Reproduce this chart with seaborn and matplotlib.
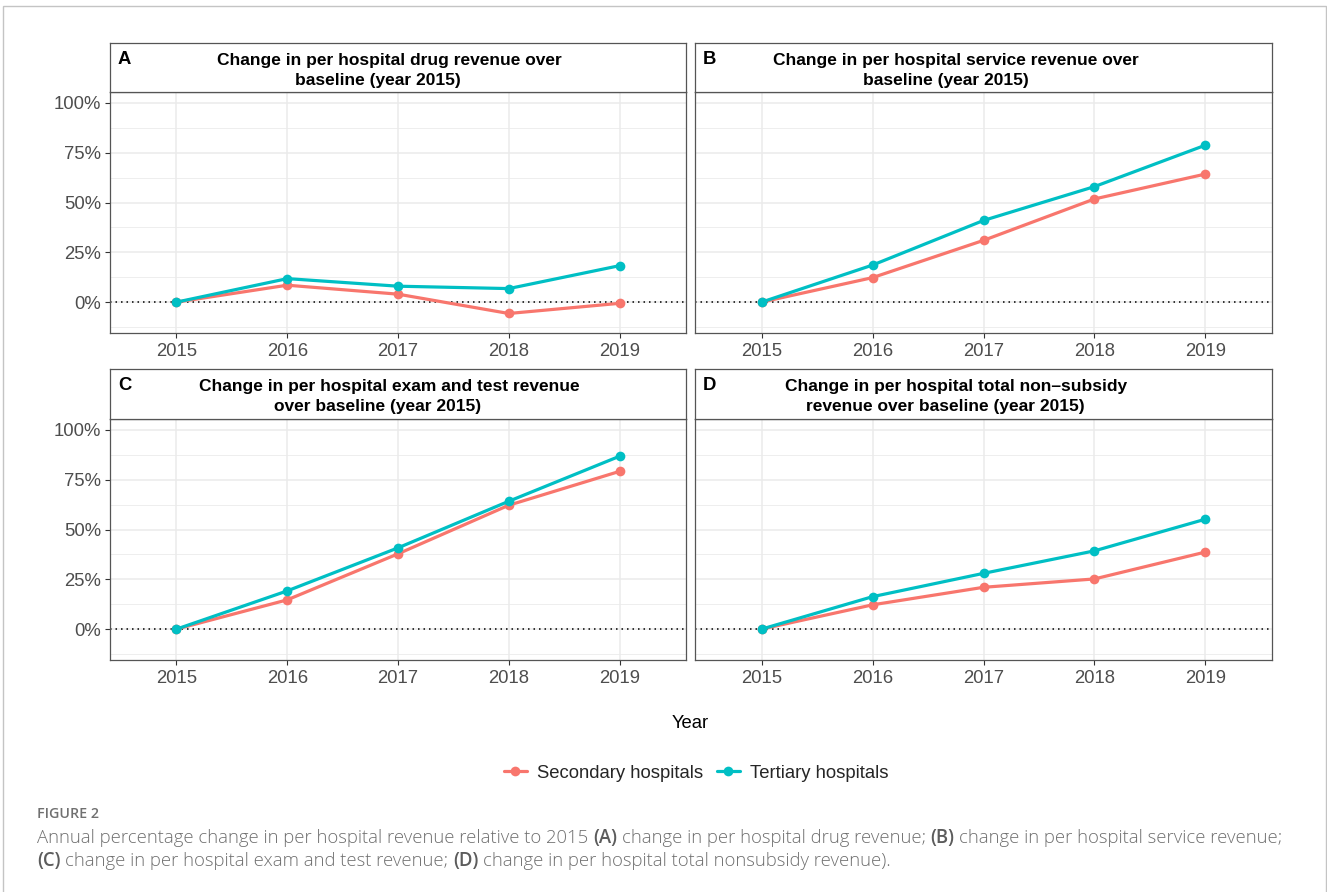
import matplotlib
matplotlib.use("Agg")
import matplotlib.pyplot as plt
import matplotlib.patches as mpatches
from matplotlib.ticker import FixedLocator
import numpy as np
import pandas as pd
import seaborn as sns

# ---- data (percent change relative to 2015) ----
years = [2015, 2016, 2017, 2018, 2019]
groups = ["Secondary hospitals", "Tertiary hospitals"]

drug_secondary = [0.0, 8.5, 4.0, -5.7, -0.6]
drug_tertiary = [0.0, 11.8, 8.0, 6.8, 18.3]
service_secondary = [0.0, 12.3, 31.0, 51.8, 64.3]
service_tertiary = [0.0, 18.6, 41.0, 58.0, 78.8]
exam_secondary = [0.0, 14.7, 37.8, 62.2, 79.2]
exam_tertiary = [0.0, 19.2, 40.8, 64.2, 86.8]
total_secondary = [0.0, 12.2, 21.0, 25.2, 38.7]
total_tertiary = [0.0, 16.3, 28.0, 39.3, 55.2]

panel_tags = ["A", "B", "C", "D"]
panel_titles = [
    ["Change in per hospital drug revenue over", "baseline (year 2015)"],
    ["Change in per hospital service revenue over", "baseline (year 2015)"],
    ["Change in per hospital exam and test revenue", "over baseline (year 2015)"],
    ["Change in per hospital total non\u2013subsidy", "revenue over baseline (year 2015)"],
]
panel_series = [
    (drug_secondary, drug_tertiary),
    (service_secondary, service_tertiary),
    (exam_secondary, exam_tertiary),
    (total_secondary, total_tertiary),
]
y_ticks = [0, 25, 50, 75, 100]
y_tick_labels = ["0%", "25%", "50%", "75%", "100%"]
x_label = "Year"
figure_label = "FIGURE 2"
caption_line1 = [
    ("Annual percentage change in per hospital revenue relative to 2015", False),
    ("(A)", True),
    ("change in per hospital drug revenue;", False),
    ("(B)", True),
    ("change in per hospital service revenue;", False),
]
caption_line2 = [
    ("(C)", True),
    ("change in per hospital exam and test revenue;", False),
    ("(D)", True),
    ("change in per hospital total nonsubsidy revenue).", False),
]

palette = {"Secondary hospitals": "#F8766D", "Tertiary hospitals": "#00BFC4"}

# ---- figure setup ----
W, H = 1327, 892
sns.set_theme(style="white")
plt.rcParams["font.family"] = ["Liberation Sans", "DejaVu Sans"]
fig = plt.figure(figsize=(W / 100, H / 100), dpi=100)
fig.patch.set_facecolor("white")


def box(x0, y0, x1, y1):
    return [x0 / W, 1 - y1 / H, (x1 - x0) / W, (y1 - y0) / H]


def fx(x):
    return x / W


def fy(y):
    return 1 - y / H


# outer frame
fig.patches.append(mpatches.Rectangle((fx(3), fy(900)), fx(1326) - fx(3), fy(6) - fy(900),
                                      transform=fig.transFigure, fill=False,
                                      edgecolor="#c4c4c4", linewidth=1.0))

border_col = "#555555"
grid_col = "#EBEBEB"
tick_col = "#4D4D4D"
FS = 13.3
TITLE_FS = 12.5

# pixel layout for each panel: (left, right) and (strip_top, strip_bottom, panel_bottom)
cols = [(110, 686), (695, 1272)]
rows = [(43, 92, 333), (369, 419, 660)]
# horizontal centres of the two title lines, relative to the panel centre
title_offsets = [(-9, -20), (-27.5, -38)]

legend_handles = None
for i in range(4):
    r, c = divmod(i, 2)
    x0, x1 = cols[c]
    s_top, s_bot, p_bot = rows[r]

    # panel
    ax = fig.add_axes(box(x0, s_bot, x1, p_bot))
    sec, ter = panel_series[i]
    df = pd.DataFrame({
        "Year": years * 2,
        "value": list(sec) + list(ter),
        "group": [groups[0]] * len(years) + [groups[1]] * len(years),
    })
    ax.axhline(0, color="black", linestyle=(0, (1, 2.6)), linewidth=1.1, zorder=1.5)
    sns.lineplot(data=df, x="Year", y="value", hue="group", hue_order=groups,
                 palette=palette, marker="o", markersize=7, markeredgewidth=0,
                 linewidth=2.3, ax=ax, legend=(i == 0), zorder=3)
    if i == 0:
        legend_handles = ax.get_legend_handles_labels()
        ax.get_legend().remove()

    ax.set_xlim(2014.4, 2019.6)
    ax.set_ylim(-15.5, 105.5)
    ax.set_xticks(years)
    ax.set_xticklabels([str(y) for y in years])
    ax.set_yticks(y_ticks)
    ax.yaxis.set_minor_locator(FixedLocator([-12.5, 12.5, 37.5, 62.5, 87.5]))
    if c == 0:
        ax.set_yticklabels(y_tick_labels)
        ax.tick_params(axis="y", which="major", left=True, length=3.5, width=0.8,
                       color="#333333", pad=3, labelsize=FS, labelcolor=tick_col)
    else:
        ax.set_yticklabels([])
        ax.tick_params(axis="y", which="major", left=False, length=0)
    ax.tick_params(axis="y", which="minor", left=False, length=0)
    ax.tick_params(axis="x", which="major", bottom=True, length=3.5, width=0.8,
                   color="#333333", pad=4, labelsize=FS, labelcolor=tick_col)
    ax.set_xlabel("")
    ax.set_ylabel("")
    ax.grid(True, which="major", color=grid_col, linewidth=1.1, zorder=0)
    ax.grid(True, which="minor", axis="y", color=grid_col, linewidth=0.6, zorder=0)
    ax.set_axisbelow(True)
    for sp in ax.spines.values():
        sp.set_visible(True)
        sp.set_color(border_col)
        sp.set_linewidth(0.9)
    ax.set_facecolor("white")

    # strip
    sx = fig.add_axes(box(x0, s_top, x1, s_bot))
    sx.set_xticks([])
    sx.set_yticks([])
    sx.set_facecolor("white")
    for sp in sx.spines.values():
        sp.set_visible(True)
        sp.set_color(border_col)
        sp.set_linewidth(0.9)
    centre = (x0 + x1) / 2
    fig.text(fx(x0 + 8), fy(s_top + 16.5), panel_tags[i], fontsize=FS, fontweight="bold",
             ha="left", va="center", color="black")
    for k, line in enumerate(panel_titles[i]):
        fig.text(fx(centre + title_offsets[c][k]), fy(s_top + 17 + 20 * k), line,
                 fontsize=TITLE_FS, fontweight="bold", ha="center", va="center",
                 color="black")

# shared x-axis title
fig.text(fx(690), fy(724), x_label, fontsize=FS, ha="center", va="center", color="black")

# legend
handles, labels = legend_handles
fig.legend(handles, labels, loc="center", bbox_to_anchor=(fx(696), fy(773)), ncol=2,
           frameon=False, fontsize=FS, handlelength=1.25, handletextpad=0.55,
           columnspacing=0.75)

# caption
renderer = fig.canvas.get_renderer()
cap_family = ["Open Sans", "DejaVu Sans"]
normal_col = "#6f6f6f"
bold_col = "#5c5c5c"
cap_left, cap_right = 37, 1283

fig.text(fx(cap_left), fy(818), figure_label, fontsize=10.3, fontweight="semibold",
         color="#707070", family=cap_family, ha="left", va="baseline")


def text_width(s, size, weight):
    t = fig.text(0, 0, s, fontsize=size, family=cap_family, weight=weight)
    w = t.get_window_extent(renderer).width
    t.remove()
    return w


def runs_width(runs, size):
    sp = text_width("x x", size, "light") - text_width("xx", size, "light")
    return sum(text_width(s, size, "semibold" if b else "light") for s, b in runs) \
        + sp * (len(runs) - 1)


# size the caption so its first line spans the text block
base = 10.0
cap_size = base * (cap_right - cap_left) / runs_width(caption_line1, base)
space_w = text_width("x x", cap_size, "light") - text_width("xx", cap_size, "light")


def draw_runs(runs, x, y):
    for txt, bold in runs:
        t = fig.text(fx(x), fy(y), txt, fontsize=cap_size, family=cap_family,
                     weight="semibold" if bold else "light",
                     color=bold_col if bold else normal_col,
                     ha="left", va="baseline")
        x += t.get_window_extent(renderer).width + space_w


draw_runs(caption_line1, cap_left, 843)
draw_runs(caption_line2, cap_left, 866)

fig.savefig("out.png", dpi=100, facecolor="white")
